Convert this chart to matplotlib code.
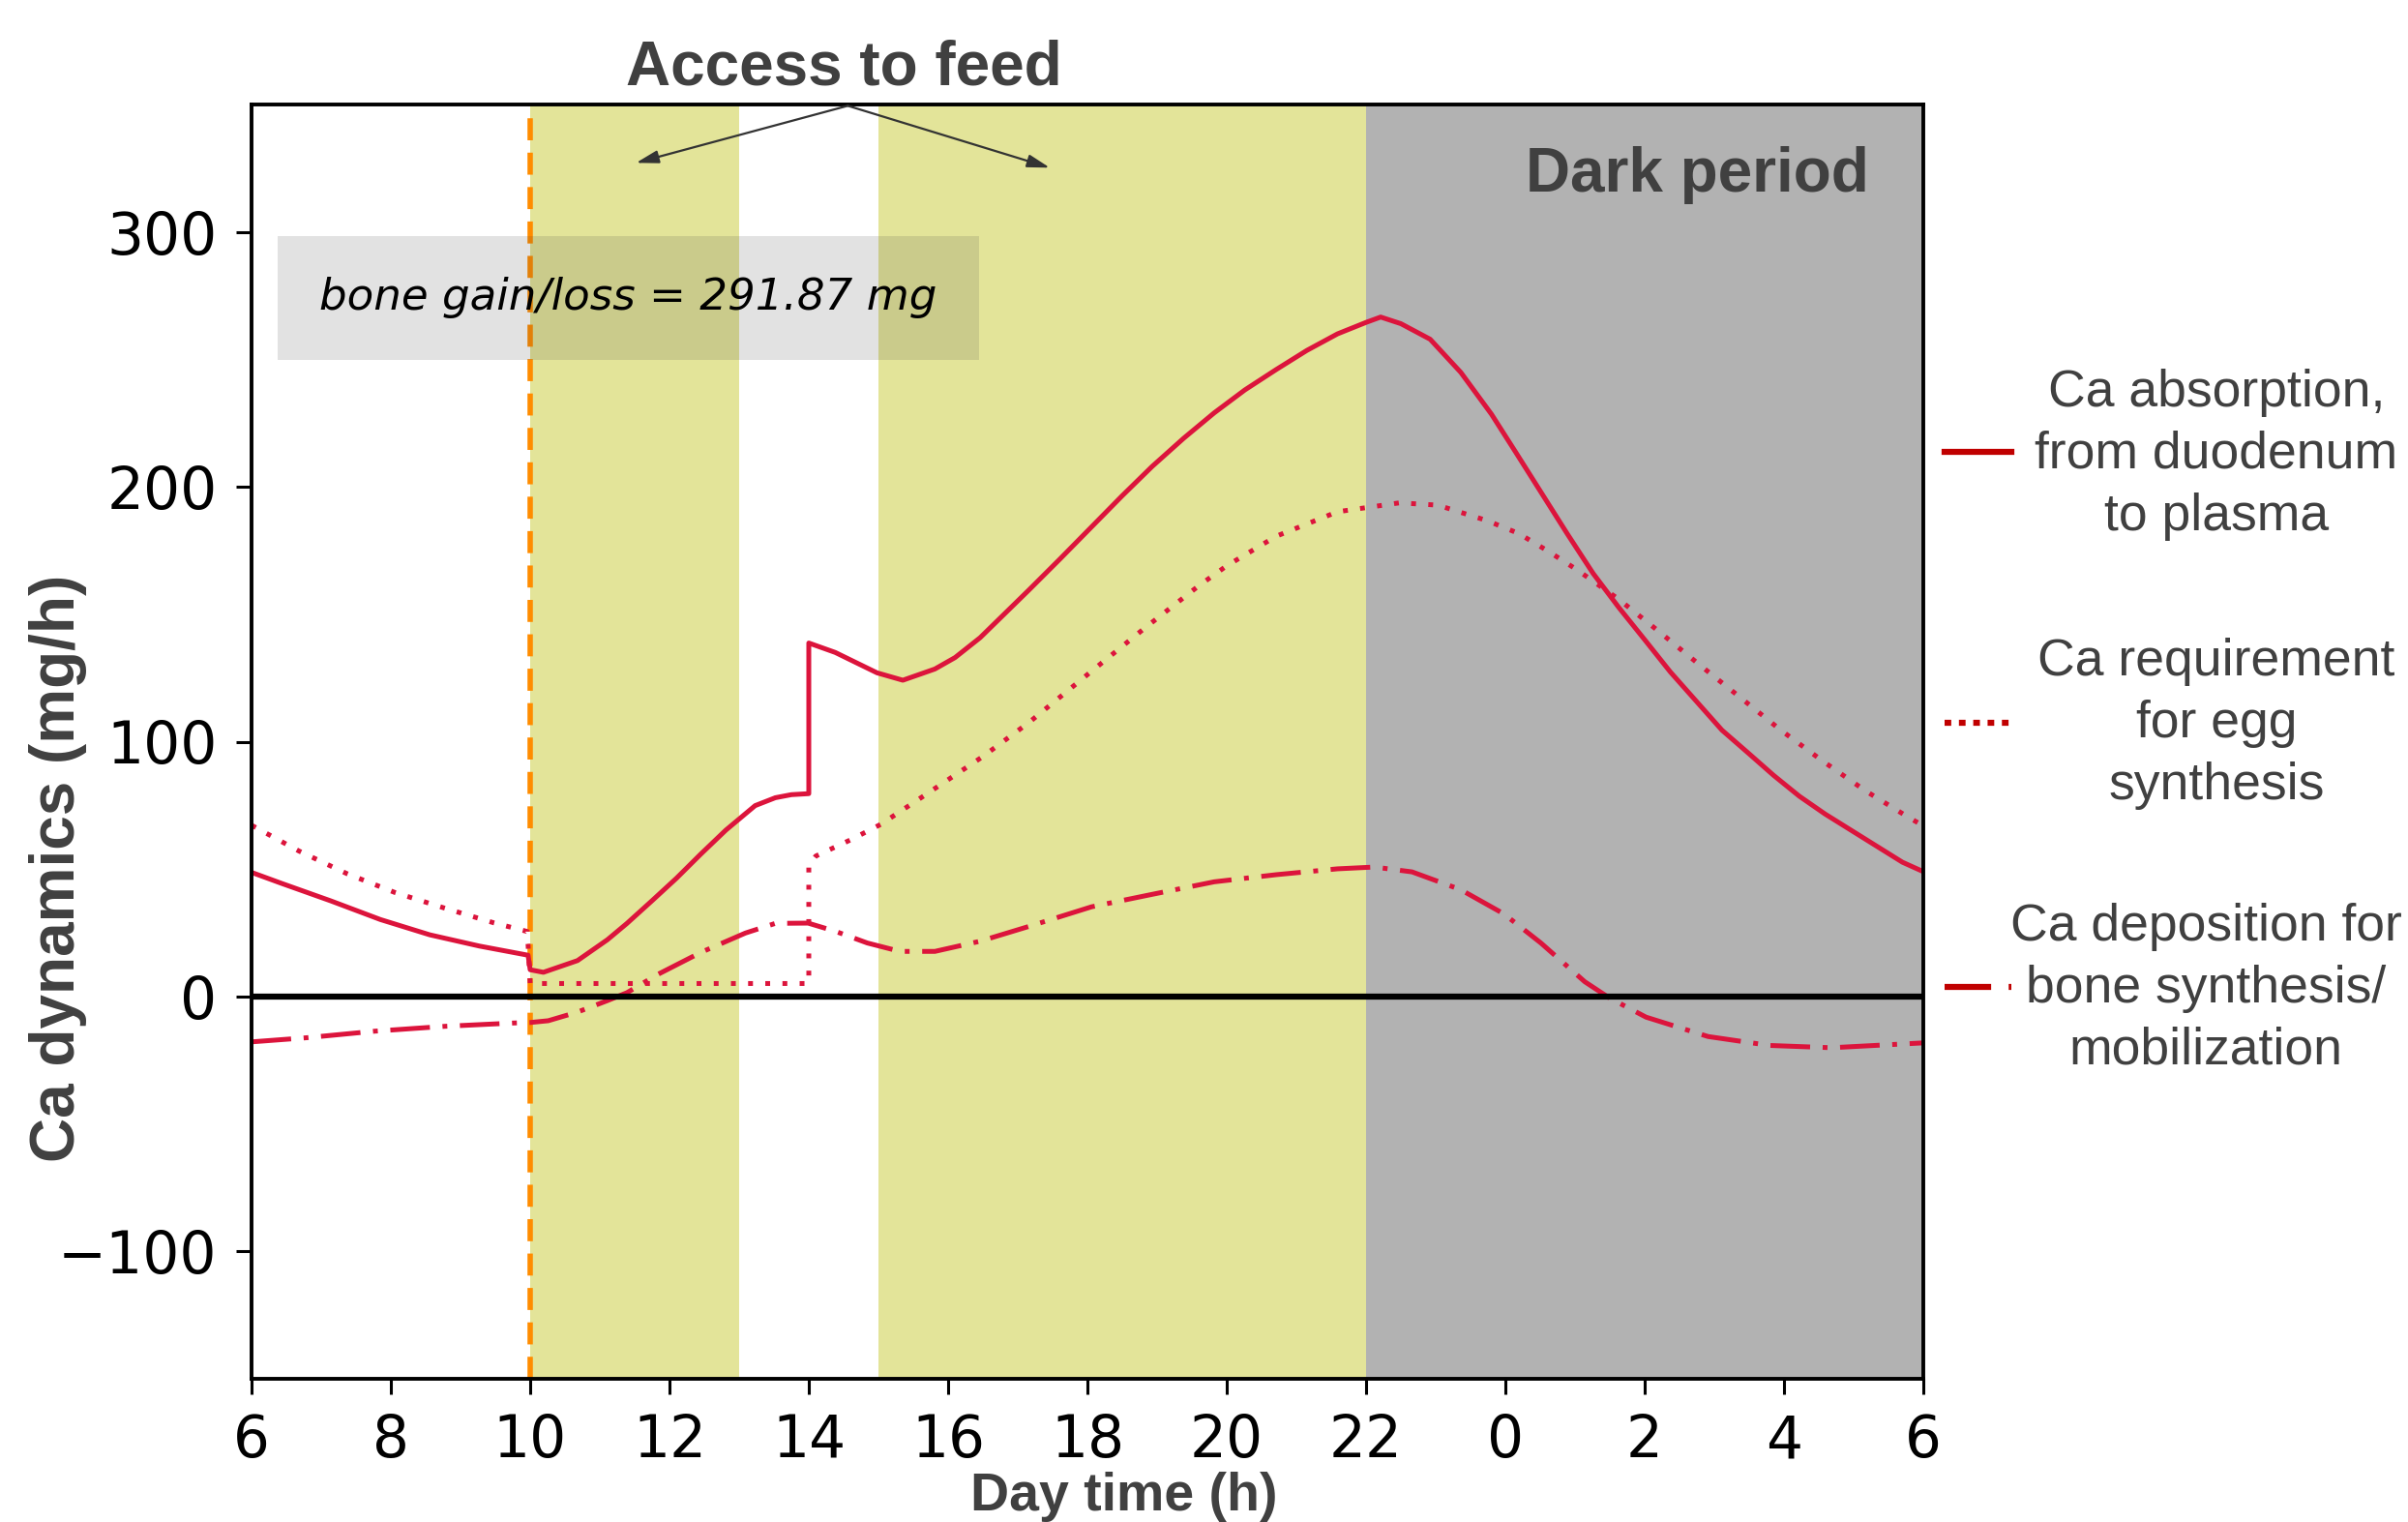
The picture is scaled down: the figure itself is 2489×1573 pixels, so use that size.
import matplotlib
matplotlib.use("Agg")
import matplotlib.pyplot as plt
from matplotlib.lines import Line2D

# ---------------- data ----------------
absorption_x = [6.0, 6.43, 7.14, 7.85, 8.56, 9.27, 9.97, 10.0, 10.19, 10.68, 11.11, 11.39,
                11.75, 12.1, 12.45, 12.81, 13.23, 13.52, 13.75, 14.0, 14.0, 14.38, 14.98,
                15.35, 15.81, 16.1, 16.46, 17.16, 17.6, 18.05, 18.5, 18.93, 19.38, 19.82,
                20.26, 20.71, 21.15, 21.59, 22.0, 22.21, 22.5, 22.92, 23.36, 23.8, 24.15,
                24.52, 24.89, 25.26, 25.63, 26.0, 26.37, 26.74, 27.11, 27.48, 27.85, 28.22,
                28.59, 28.96, 29.33, 29.7, 30.0]
absorption_y = [48.7, 44.4, 37.5, 30.2, 24.2, 19.8, 16.2, 10.5, 9.5, 14.1, 22.3, 28.7,
                37.6, 46.4, 55.9, 65.3, 74.9, 78.0, 79.2, 79.6, 138.7, 135.0, 127.0,
                124.1, 128.5, 133.0, 140.8, 159.5, 171.5, 184.0, 196.5, 208.0, 219.0, 229.0,
                238.0, 246.0, 253.5, 260.0, 264.5, 266.6, 264.0, 257.9, 244.9, 228.5, 213.5,
                197.5, 181.5, 166.0, 152.6, 140.0, 127.3, 115.9, 104.5, 95.7, 86.8, 78.6,
                71.6, 65.3, 59.0, 52.7, 49.0]

requirement_x = [6.0, 6.68, 7.37, 8.06, 8.77, 9.48, 9.96, 10.0, 14.0, 14.0, 14.1, 14.61,
                 15.03, 15.65, 16.49, 17.16, 18.04, 18.82, 19.6, 20.0, 20.71, 21.59, 22.48,
                 23.03, 23.74, 24.19, 24.61, 25.03, 25.63, 26.21, 26.79, 27.37, 27.94, 28.55,
                 29.17, 29.8, 30.0]
requirement_y = [67.2, 57.1, 48.2, 40.8, 34.7, 28.9, 25.5, 5.1, 5.1, 51.5, 55.1, 61.6,
                 67.5, 78.7, 94.0, 107.5, 127.2, 144.5, 161.2, 169.0, 180.6, 190.2, 193.7,
                 192.8, 186.7, 181.7, 174.8, 167.4, 155.8, 143.1, 130.1, 117.4, 104.8, 92.5,
                 80.7, 70.1, 67.0]

deposition_x = [6.0, 6.78, 7.77, 8.77, 9.76, 10.0, 10.26, 10.68, 11.11, 11.39, 11.82, 12.45,
                13.09, 13.52, 13.99, 14.38, 14.84, 15.31, 15.81, 16.46, 17.16, 18.06, 18.95,
                19.82, 20.71, 21.59, 22.12, 22.66, 23.36, 23.98, 24.51, 25.14, 25.49, 26.02,
                26.91, 27.79, 28.68, 30.0]
deposition_y = [-17.8, -16.2, -13.6, -11.7, -10.4, -10.2, -9.5, -6.1, -1.6, 1.5, 8.5, 17.3,
                24.9, 28.7, 28.8, 25.6, 21.0, 17.7, 17.7, 21.7, 27.5, 35.2, 40.2,
                45.0, 47.8, 50.1, 50.8, 48.9, 41.9, 32.4, 21.0, 5.8, -0.5, -8.1,
                -15.7, -19.2, -20.1, -18.2]

feed_periods = [(10, 13), (15, 22)]
dark_period = (22, 30)
feed_start = 10

xtick_pos = [6, 8, 10, 12, 14, 16, 18, 20, 22, 24, 26, 28, 30]
xtick_labels = ["6", "8", "10", "12", "14", "16", "18", "20", "22", "0", "2", "4", "6"]
ytick_pos = [-100, 0, 100, 200, 300]

bone_text = "bone gain/loss = 291.87 mg"
legend_labels = [["Ca absorption,", "from duodenum", "to plasma"],
                 ["Ca requirement", "for egg", "synthesis"],
                 ["Ca deposition for", "bone synthesis/", "mobilization"]]

# ---------------- styling ----------------
W, H = 2489, 1573
fx = lambda px: px / W
fy = lambda py: 1 - py / H

RED = "#dc143c"
LEG_RED = "#c00000"
DARK = "#404040"
YELLOW = "#e3e499"
GRAY = "#b2b2b2"
SANS = ["Liberation Sans", "DejaVu Sans"]
LW = 3.6

fig = plt.figure(figsize=(W / 100, H / 100), dpi=100)
ax = fig.add_axes([fx(260), fy(1425), (1988 - 260) / W, (1425 - 108) / H])

for a, b in feed_periods:
    ax.axvspan(a, b, color=YELLOW, lw=0, zorder=1)
ax.axvspan(dark_period[0], dark_period[1], color=GRAY, lw=0, zorder=1)

ax.axvline(feed_start, color="#ff8c00", lw=4, dashes=(4.1, 2.3), zorder=2)

ax.plot(absorption_x, absorption_y, color=RED, lw=LW, zorder=3, solid_joinstyle="round")
ax.plot(requirement_x, requirement_y, color=RED, lw=LW, dashes=(1.0, 2.55), zorder=3)
ax.plot(deposition_x, deposition_y, color=RED, lw=LW, dashes=(8.2, 2.6, 1.0, 2.6), zorder=3)

ax.axhline(0, color="black", lw=4.5, zorder=4)

ax.set_xlim(6, 30)
ax.set_ylim(-150, 350)
ax.set_xticks(xtick_pos)
ax.set_xticklabels(xtick_labels)
ax.set_yticks(ytick_pos)
ax.tick_params(direction="out", length=11.5, width=2.2, pad=14, labelsize=43,
               colors="black")
for s in ax.spines.values():
    s.set_linewidth(2.8)
    s.set_color("black")
    s.set_zorder(6)

# bone gain/loss box
ax.text(11.41, 274.1, bone_text, style="italic", fontsize=32.5, color="black",
        ha="center", va="center", zorder=7, family="DejaVu Sans",
        bbox=dict(boxstyle="square,pad=0.95", facecolor="#404040", alpha=0.15,
                  edgecolor="none"))

# Dark period label
ax.text(26.76, 315.9, "Dark period", fontsize=46, fontweight="bold", color=DARK,
        ha="center", va="baseline", family=SANS, zorder=7)

# Access to feed
fig.text(fx(872), fy(87), "Access to feed", fontsize=46, fontweight="bold",
         color=DARK, ha="center", va="baseline", family=SANS)
arrow_kw = dict(arrowstyle="-|>,head_length=0.7,head_width=0.2", color="#333333",
                lw=1.6, shrinkA=0, shrinkB=0, mutation_scale=20)
ax.annotate("", xy=(11.52, 327.1), xytext=(14.56, 349.5), arrowprops=arrow_kw,
            annotation_clip=False, zorder=8)
ax.annotate("", xy=(17.46, 325.2), xytext=(14.56, 349.5), arrowprops=arrow_kw,
            annotation_clip=False, zorder=8)

# axis labels
fig.text(fx(60), fy(897), "Ca dynamics (mg/h)", rotation=90, fontsize=46,
         fontweight="bold", color=DARK, ha="center", va="center", family=SANS)
fig.text(fx(1162), fy(1561), "Day time (h)", fontsize=40, fontweight="bold",
         color=DARK, ha="center", va="baseline", family=SANS)

# legend (drawn manually to the right of the axes)
handle_styles = [dict(), dict(dashes=(1.1, 1.27)), dict(dashes=(7.7, 2.9, 0.45, 2.9))]
handle_y = [467, 747, 1020]
block_cx = [2291, 2291, 2280]
first_baseline = [420, 698, 972]
for lbl, st, hy, cx, b0 in zip(legend_labels, handle_styles, handle_y, block_cx, first_baseline):
    fig.add_artist(Line2D([fx(2010), fx(2079)], [fy(hy), fy(hy)], color=LEG_RED,
                          lw=4.5, transform=fig.transFigure, **st))
    for i, line in enumerate(lbl):
        fig.text(fx(cx), fy(b0 + 64 * i), line, fontsize=38.5, color=DARK,
                 ha="center", va="baseline", family=SANS)

fig.savefig("out.png", dpi=100)
